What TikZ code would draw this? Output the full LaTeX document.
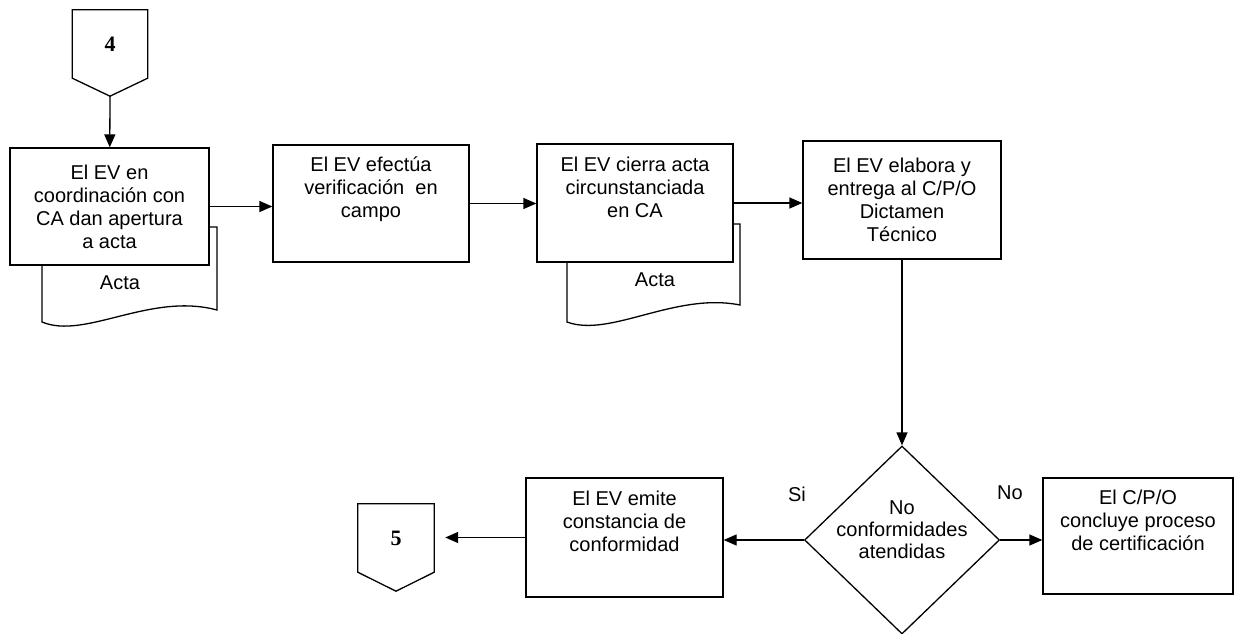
\documentclass[tikz,border=0pt]{standalone}
\usepackage{fontspec}
\setmainfont{Liberation Sans}
\newfontfamily\digitfont{Liberation Serif}
\usepackage{tikz}
\usetikzlibrary{positioning,calc,arrows.meta,shapes.geometric}
\tikzset{
	procnode/.style = {shape=rectangle, draw, align=center, fill=white,
		line width=1.3pt, inner sep=0pt, minimum width=197pt, minimum height=117pt,
		font=\fontsize{20}{23}\selectfont},
	topnode/.style  = {procnode, text depth=32pt},
	decnode/.style  = {shape=diamond, draw, align=center, fill=white, line width=1.3pt,
		inner sep=-12pt, minimum width=195pt, minimum height=188pt, text depth=21pt,
		font=\fontsize{20}{22}\selectfont},
	pagenode/.style = {shape=rectangle, minimum width=75pt, minimum height=68pt,
		inner sep=0pt, font=\fontsize{22}{24}\digitfont\bfseries\selectfont},
	docline/.style  = {draw, line width=1.3pt, fill=white},
	flow/.style     = {draw, line width=1.3pt, -{Triangle[length=13pt,width=11pt]}},
	lbl/.style      = {font=\fontsize{20}{23}\selectfont}
}
\begin{document}
\begin{tikzpicture}[x=1pt, y=-1pt]
\useasboundingbox (0,0) rectangle (1235,634);
%documents
\draw[docline] (42,227) -- (42,322) .. controls (85,340) and (150,292) .. (217,310) -- (217,227) -- cycle;
\draw[docline] (567,224) -- (567,322) .. controls (610,338) and (675,292) .. (740,305) -- (740,224) -- cycle;
\node[lbl] (acta1) at (120,283) {Acta};
\node[lbl] (acta2) at (655,280) {Acta};
%page connectors
\node[pagenode] (c4) at (110,44) {4};
\coordinate (c4tip) at ($(c4.south)+(0,18)$);
\draw[line width=1.3pt] (c4.north west) -- (c4.north east) -- (c4.south east) -- (c4tip) -- (c4.south west) -- cycle;
\node[pagenode, minimum width=76pt] (c5) at (396,538) {5};
\coordinate (c5tip) at ($(c5.south)+(0,19)$);
\draw[line width=1.3pt] (c5.north west) -- (c5.north east) -- (c5.south east) -- (c5tip) -- (c5.south west) -- cycle;
%process
\node[procnode, minimum width=199pt] (apertura) at (109.5,206.5) {El EV en\\ coordinación con\\ CA dan apertura\\ a acta};
\node[topnode, minimum width=196pt] (verifica) at (371,203.5) {El EV efectúa\\ verificación\ \ en\\ campo};
\node[topnode, minimum width=196pt, minimum height=118pt] (cierra) at (635,203) {El EV cierra acta\\ circunstanciada\\ en CA};
\node[procnode, minimum width=198pt, minimum height=118pt] (dictamen) at (902,200) {El EV elabora y\\ entrega al C/P/O\\ Dictamen\\ Técnico};
\node[decnode] (atend) at (902,540) {No\\ conformidades\\ atendidas};
\node[topnode, minimum height=119pt] (constancia) at (624.5,537.5) {El EV emite\\ constancia de\\ conformidad};
\node[topnode, minimum width=190pt, minimum height=116pt] (concluye) at (1138,536) {El C/P/O\\ concluye proceso\\ de certificación};
\node[lbl] (si) at (797,494) {Si};
\node[lbl] (no) at (1010,493) {No};
%arrows
\draw[flow] (c4tip) -- (apertura);
\draw[flow] (apertura.east) -- (apertura.east -| verifica.west);
\draw[flow] (verifica.east) -- (verifica.east -| cierra.west);
\draw[flow] (cierra.east) -- (cierra.east -| dictamen.west);
\draw[flow] (dictamen.south) -- (atend.north);
\draw[flow] (atend.west) -- (atend.west -| constancia.east);
\draw[flow] (atend.east) -- (atend.east -| concluye.west);
\draw[flow, shorten >=11pt] (constancia.west) -- (constancia.west -| c5.east);
\end{tikzpicture}
\end{document}
